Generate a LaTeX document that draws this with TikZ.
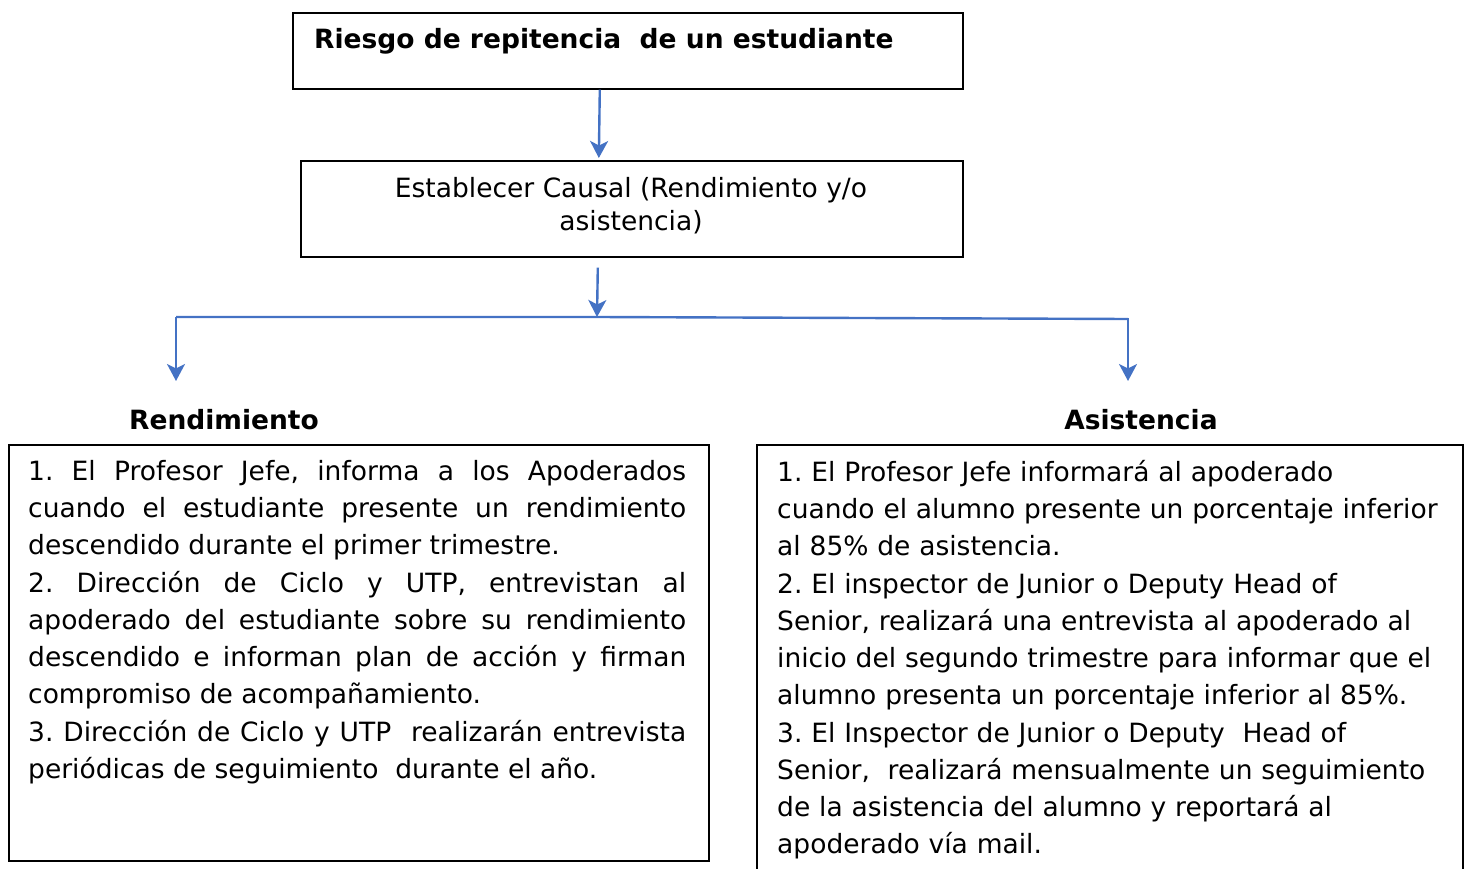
\documentclass[tikz,border=0pt]{standalone}
\usepackage{fontspec}
\setmainfont{DejaVu Sans}
\usetikzlibrary{arrows.meta, positioning}
\definecolor{flecha}{RGB}{68,114,196}

\begin{document}
\frenchspacing
\begin{tikzpicture}[x=1pt, y=-1pt,
    caja/.style={draw=black, line width=1.6pt, inner sep=0pt, anchor=north west},
    flechaazul/.style={draw=flecha, line width=2.4pt, -{Stealth[length=17pt, width=18pt, inset=4.5pt]}},
    lineaazul/.style={draw=flecha, line width=2.4pt},
    negrita/.style={font=\fontsize{26.5}{30}\selectfont\bfseries, inner sep=0pt},
    texto/.style={font=\fontsize{26.5}{37.25}\selectfont, inner sep=0pt, anchor=north west}]
  \useasboundingbox (0,0) rectangle (1466,869);

  \node[caja, minimum width=670pt, minimum height=76pt] (riesgo) at (292,12) {};
  \node[negrita, anchor=base west] (titulo) at (314,49) {Riesgo de repitencia\ \ de un estudiante};

  \node[caja, minimum width=662pt, minimum height=96pt] (causal) at (300,160) {};
  \node[font=\fontsize{26.5}{33}\selectfont, align=center, inner sep=0pt] (causaltxt) at (631,206)
    {Establecer Causal (Rendimiento y/o\\asistencia)};

  \draw[flechaazul, shorten >=2pt] ([xshift=-28pt]riesgo.south) -- ([xshift=-33pt]causal.north);

  \coordinate (split) at (597,317);
  \coordinate (izq) at (176,317);
  \coordinate (der) at (1128,319);
  \coordinate (izqfin) at (176,381);
  \coordinate (derfin) at (1128,381);
  \draw[flechaazul] ([xshift=-34pt, yshift=-10pt]causal.south) -- (split);
  \draw[lineaazul] (izq) -- (split) -- (der);
  \draw[flechaazul] (izq) -- (izqfin);
  \draw[flechaazul] ([yshift=1pt]der) -- (derfin);

  \node[negrita, anchor=base] (rend) at (224,429) {Rendimiento};
  \node[negrita, anchor=base] (asis) at (1141,429) {Asistencia};

  \node[caja, minimum width=700pt, minimum height=416pt] (cajarend) at (8,444) {};
  \node[texto, text width=658pt, align=justify] (textorend) at (28,460)
    {1. El Profesor Jefe, informa a los Apoderados\linebreak
     cuando el estudiante presente un rendimiento\linebreak
     descendido durante el primer trimestre.\\
     2. Dirección de Ciclo y UTP, entrevistan al\linebreak
     apoderado del estudiante sobre su rendimiento\linebreak
     descendido e informan plan de acción y firman\linebreak
     compromiso de acompañamiento.\\
     3. Dirección de Ciclo y UTP\ \ realizarán entrevista\linebreak
     periódicas de seguimiento\ \ durante el año.};

  \node[caja, minimum width=706pt, minimum height=460pt] (cajaasis) at (756,444) {};
  \node[texto, text width=680pt, align=left] (textoasis) at (777,460)
    {1. El Profesor Jefe informará al apoderado\\
     cuando el alumno presente un porcentaje inferior\\
     al 85\% de asistencia.\\
     2. El inspector de Junior o Deputy Head of\\
     Senior, realizará una entrevista al apoderado al\\
     inicio del segundo trimestre para informar que el\\
     alumno presenta un porcentaje inferior al 85\%.\\
     3. El Inspector de Junior o Deputy\ \ Head of\\
     Senior,\ \ realizará mensualmente un seguimiento\\
     de la asistencia del alumno y reportará al\\
     apoderado vía mail.};
\end{tikzpicture}
\end{document}
